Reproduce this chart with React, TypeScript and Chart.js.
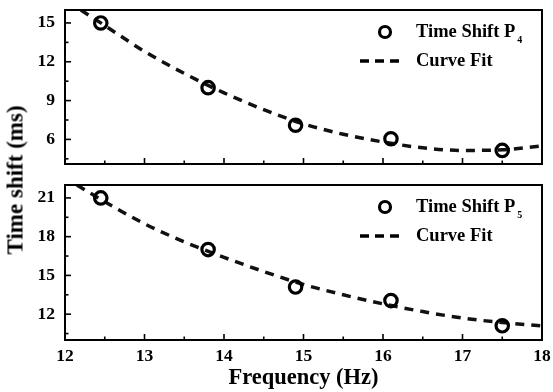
import { useEffect, useRef } from "react";
import { Chart, registerables } from "chart.js";

Chart.register(...registerables);

const SERIF = '"Liberation Serif", "Times New Roman", serif';

// Measured time shifts at each stimulation frequency
const frequency = [12.45, 13.8, 14.9, 16.1, 17.5];
const shiftP4 = [15.0, 10.0, 7.1, 6.05, 5.15];
const shiftP5 = [21.0, 17.0, 14.1, 13.05, 11.1];

// Fitted curves
const fitFreqP4 = [12.2, 12.5, 13, 13.5, 14, 14.5, 15, 15.5, 16, 16.5, 17, 17.5, 18];
const fitP4 = [16.0, 14.8, 12.8, 11.1, 9.6, 8.3, 7.2, 6.4, 5.8, 5.35, 5.15, 5.2, 5.5];
const fitFreqP5 = [12.15, 12.5, 13, 13.5, 14, 14.5, 15, 15.5, 16, 16.5, 17, 17.5, 18];
const fitP5 = [22.0, 20.7, 19.0, 17.6, 16.4, 15.3, 14.3, 13.5, 12.8, 12.2, 11.7, 11.35, 11.1];

// Axis ticks
const xTicks = [12, 13, 14, 15, 16, 17, 18];
const xMinorTicks = [12.5, 13.5, 14.5, 15.5, 16.5, 17.5];
const yTicksP4 = [6, 9, 12, 15];
const yMinorP4 = [4.5, 7.5, 10.5, 13.5];
const yTicksP5 = [12, 15, 18, 21];
const yMinorP5 = [10.5, 13.5, 16.5, 19.5];

// Legend texts
const legendP4 = ["Time Shift P", "4", "Curve Fit"];
const legendP5 = ["Time Shift P", "5", "Curve Fit"];

const frameTicks = {
  id: "frameTicks",
  afterDraw(chart: any, _args: any, opts: any) {
    const { ctx, chartArea, scales } = chart;
    const { left, right, top, bottom } = chartArea;
    const x = scales.x;
    const y = scales.y;
    ctx.save();
    ctx.strokeStyle = "#000";
    ctx.lineWidth = 1.6;
    const tick = (x1: number, y1: number, x2: number, y2: number) => {
      ctx.beginPath();
      ctx.moveTo(x1, y1);
      ctx.lineTo(x2, y2);
      ctx.stroke();
    };
    opts.xMajor.forEach((v: number) => {
      const p = x.getPixelForValue(v);
      tick(p, bottom, p, bottom - 6);
    });
    opts.xMinor.forEach((v: number) => {
      const p = x.getPixelForValue(v);
      tick(p, bottom, p, bottom - 3.5);
    });
    opts.yMajor.forEach((v: number) => {
      const p = y.getPixelForValue(v);
      tick(left, p, left + 6, p);
    });
    opts.yMinor.forEach((v: number) => {
      const p = y.getPixelForValue(v);
      tick(left, p, left + 3.5, p);
    });
    ctx.lineWidth = 2;
    ctx.strokeRect(left, top, right - left, bottom - top);
    ctx.restore();
  },
};

const panelLegend = {
  id: "panelLegend",
  afterDraw(chart: any, _args: any, opts: any) {
    const { ctx, chartArea } = chart;
    const [main, sub, fit] = opts.labels;
    const sx = chartArea.right - 157;
    const tx = chartArea.right - 126;
    const y1 = chartArea.top + 22;
    const y2 = chartArea.top + 51;
    ctx.save();
    ctx.strokeStyle = "#000";
    ctx.fillStyle = "#000";
    ctx.lineWidth = 3.2;
    ctx.beginPath();
    ctx.arc(sx, y1, 5.5, 0, Math.PI * 2);
    ctx.stroke();
    ctx.lineWidth = 3.5;
    ctx.setLineDash([9, 6]);
    ctx.beginPath();
    ctx.moveTo(sx - 25, y2);
    ctx.lineTo(sx + 15, y2);
    ctx.stroke();
    ctx.setLineDash([]);
    ctx.textAlign = "left";
    ctx.textBaseline = "middle";
    ctx.font = `bold 18.5px ${SERIF}`;
    ctx.fillText(main, tx, y1);
    const w = ctx.measureText(main).width;
    ctx.fillText(fit, tx, y2);
    ctx.font = `bold 10px ${SERIF}`;
    ctx.fillText(sub, tx + w + 2, y1 + 8);
    ctx.restore();
  },
};

type PanelSpec = {
  points: number[];
  fitX: number[];
  fitY: number[];
  yMin: number;
  yMax: number;
  yMajor: number[];
  yMinor: number[];
  legend: string[];
  showX: boolean;
  xHeight: number;
};

function buildChart(canvas: HTMLCanvasElement, spec: PanelSpec) {
  const tickFont = { family: SERIF, size: 17.5, weight: "bold" as const };
  return new Chart(canvas, {
    type: "scatter",
    data: {
      datasets: [
        {
          type: "scatter",
          label: spec.legend[0] + spec.legend[1],
          data: frequency.map((f, i) => ({ x: f, y: spec.points[i] })),
          pointStyle: "circle",
          pointRadius: 6.2,
          borderWidth: 3.2,
          borderColor: "#000",
          backgroundColor: "rgba(0,0,0,0)",
        },
        {
          type: "line",
          label: spec.legend[2],
          data: spec.fitX.map((f, i) => ({ x: f, y: spec.fitY[i] })),
          borderColor: "#111",
          borderWidth: 3.5,
          borderDash: [9, 7],
          cubicInterpolationMode: "monotone",
          pointRadius: 0,
          fill: false,
        },
      ],
    },
    options: {
      responsive: false,
      animation: false,
      devicePixelRatio: 1,
      layout: { padding: { left: 0, right: 11, top: 10, bottom: 0 } },
      plugins: {
        legend: { display: false },
        tooltip: { enabled: false },
        frameTicks: {
          xMajor: xTicks,
          xMinor: xMinorTicks,
          yMajor: spec.yMajor,
          yMinor: spec.yMinor,
        },
        panelLegend: { labels: spec.legend },
      } as any,
      scales: {
        x: {
          type: "linear",
          position: "bottom",
          min: 12,
          max: 18,
          grid: { display: false, drawTicks: false },
          border: { display: false },
          ticks: {
            display: spec.showX,
            font: tickFont,
            color: "#000",
            padding: 6,
            maxRotation: 0,
          },
          title: {
            display: spec.showX,
            text: "Frequency (Hz)",
            font: { family: SERIF, size: 22.5, weight: "bold" },
            color: "#000",
            padding: { top: 0, bottom: 0 },
          },
          afterBuildTicks: (scale: any) => {
            scale.ticks = xTicks.map((v) => ({ value: v }));
          },
          afterFit: (scale: any) => {
            scale.height = spec.xHeight;
            scale.paddingLeft = 0;
            scale.paddingRight = 0;
          },
        },
        y: {
          type: "linear",
          min: spec.yMin,
          max: spec.yMax,
          grid: { display: false, drawTicks: false },
          border: { display: false },
          ticks: { font: tickFont, color: "#000", padding: 10 },
          afterBuildTicks: (scale: any) => {
            scale.ticks = spec.yMajor.map((v) => ({ value: v }));
          },
          afterFit: (scale: any) => {
            scale.width = 65;
            scale.paddingTop = 0;
            scale.paddingBottom = 0;
          },
        },
      },
    },
    plugins: [frameTicks, panelLegend],
  });
}

export default function App() {
  const topRef = useRef<HTMLCanvasElement>(null);
  const bottomRef = useRef<HTMLCanvasElement>(null);

  useEffect(() => {
    const top = buildChart(topRef.current!, {
      points: shiftP4,
      fitX: fitFreqP4,
      fitY: fitP4,
      yMin: 4.1,
      yMax: 16,
      yMajor: yTicksP4,
      yMinor: yMinorP4,
      legend: legendP4,
      showX: false,
      xHeight: 11,
    });
    const bottom = buildChart(bottomRef.current!, {
      points: shiftP5,
      fitX: fitFreqP5,
      fitY: fitP5,
      yMin: 10,
      yMax: 22,
      yMajor: yTicksP5,
      yMinor: yMinorP5,
      legend: legendP5,
      showX: true,
      xHeight: 52,
    });
    return () => {
      top.destroy();
      bottom.destroy();
    };
  }, []);

  return (
    <div
      style={{
        position: "absolute",
        left: 0,
        top: 0,
        width: 553,
        height: 392,
        background: "#fff",
        overflow: "hidden",
      }}
    >
      <canvas
        ref={topRef}
        width={553}
        height={175}
        style={{ position: "absolute", left: 0, top: 0, display: "block" }}
      />
      <canvas
        ref={bottomRef}
        width={553}
        height={217}
        style={{ position: "absolute", left: 0, top: 175, display: "block" }}
      />
      <div
        style={{
          position: "absolute",
          left: 15,
          top: 180,
          transform: "translate(-50%, -50%) rotate(-90deg)",
          whiteSpace: "nowrap",
          fontFamily: SERIF,
          fontWeight: "bold",
          fontSize: 23,
          color: "#000",
          lineHeight: 1,
        }}
      >
        Time shift (ms)
      </div>
    </div>
  );
}
